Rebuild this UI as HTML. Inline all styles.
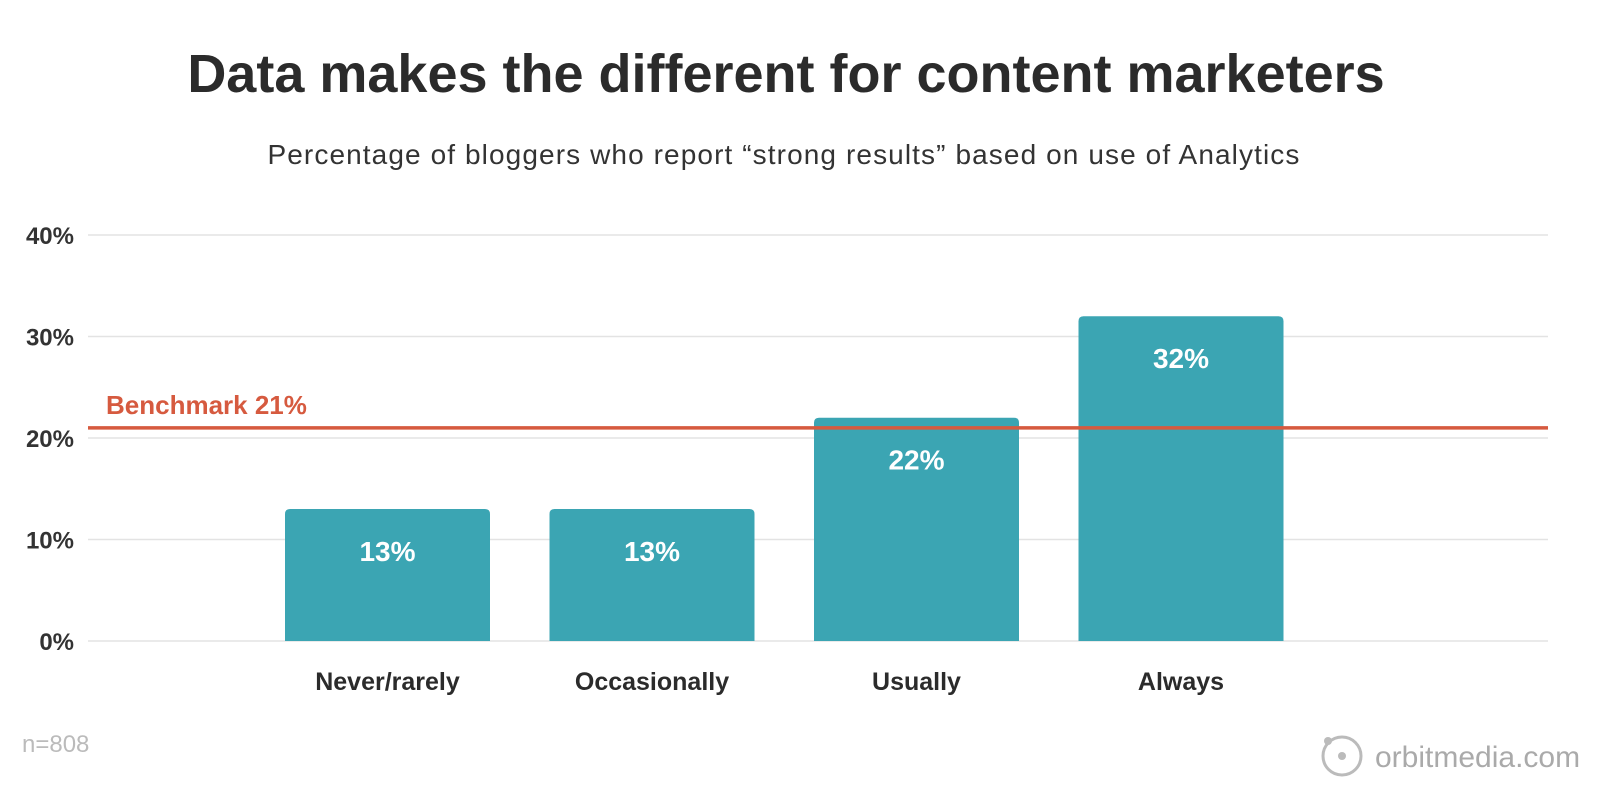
<!DOCTYPE html>
<html><head><meta charset="utf-8"><style>
html,body{margin:0;padding:0;background:#fff;}
svg{display:block;font-family:"Liberation Sans",sans-serif;}
</style></head><body>
<svg id="chart" width="1600" height="800" viewBox="0 0 1600 800">
<text x="786" y="92" text-anchor="middle" font-size="54" font-weight="bold" fill="#2b2b2b">Data makes the different for content marketers</text>
<text x="784" y="164" text-anchor="middle" font-size="28" letter-spacing="1.1" fill="#333">Percentage of bloggers who report “strong results” based on use of Analytics</text>
<g id="grid"></g><g id="bars"></g>
<text x="22" y="752" font-size="24" fill="#bbb">n=808</text>
<g>
<circle cx="1342" cy="756" r="19" fill="none" stroke="#bbb" stroke-width="3"/>
<circle cx="1342" cy="756" r="4" fill="#bbb"/>
<circle cx="1328" cy="741" r="4" fill="#bbb"/>
<text x="1375" y="767" font-size="30" fill="#aaa">orbitmedia.com</text>
</g>
</svg>
<script>
const categories=["Never/rarely","Occasionally","Usually","Always"];
const values=[13,13,22,32];
const valueLabels=["13%","13%","22%","32%"];
const ticks=[0,10,20,30,40];
const tickLabels=["0%","10%","20%","30%","40%"];
const benchmark=[21];
const NS="http://www.w3.org/2000/svg";
const y=v=>641-v*10.15;
const x=i=>285+i*264.5;
const bw=205;
function mk(t,a,p,txt){const e=document.createElementNS(NS,t);for(const k in a)e.setAttribute(k,a[k]);if(txt!==undefined)e.textContent=txt;p.appendChild(e);return e;}
const grid=document.getElementById('grid'),bars=document.getElementById('bars');
ticks.forEach((t,i)=>{
 const l=mk('line',{x1:88,x2:1548,y1:y(t),y2:y(t),stroke:'#e3e3e3','stroke-width':1.5},grid);
 
 
 const tx=mk('text',{x:74,y:y(t)+9,'text-anchor':'end','font-size':24,'font-weight':'bold',fill:'#333'},grid,tickLabels[i]);
 
 
});
values.forEach((v,i)=>{
 const r=mk('path',{d:`M${x(i)},${y(0)} V${y(v)+5} Q${x(i)},${y(v)} ${x(i)+5},${y(v)} H${x(i)+bw-5} Q${x(i)+bw},${y(v)} ${x(i)+bw},${y(v)+5} V${y(0)} Z`,fill:'#3ba5b3'},bars);
 
 
 const vl=mk('text',{x:x(i)+bw/2,y:y(v)+52,'text-anchor':'middle','font-size':28,'font-weight':'bold',fill:'#fff'},bars,valueLabels[i]);
 
 
 const cl=mk('text',{x:x(i)+bw/2,y:690,'text-anchor':'middle','font-size':25,'font-weight':'bold',fill:'#2b2b2b'},bars,categories[i]);
 
 
});
const bl=mk('line',{x1:88,x2:1548,y1:y(benchmark[0]),y2:y(benchmark[0]),stroke:'#d65a3f','stroke-width':3.5},bars);


const bt=mk('text',{x:106,y:y(benchmark[0])-14,'font-size':26,'font-weight':'bold',fill:'#d65a3f'},bars,'Benchmark '+benchmark[0]+'%');


</script>
</body></html>
